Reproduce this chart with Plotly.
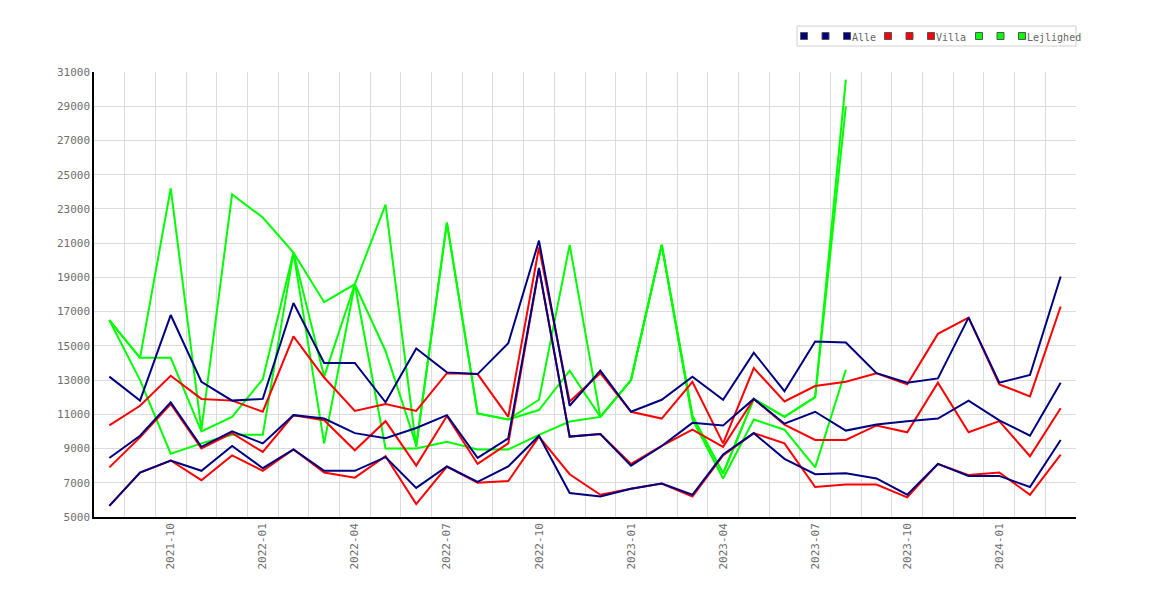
import plotly.graph_objects as go

months = ["2021-08", "2021-09", "2021-10", "2021-11", "2021-12", "2022-01", "2022-02", "2022-03",
          "2022-04", "2022-05", "2022-06", "2022-07", "2022-08", "2022-09", "2022-10", "2022-11",
          "2022-12", "2023-01", "2023-02", "2023-03", "2023-04", "2023-05", "2023-06", "2023-07",
          "2023-08", "2023-09", "2023-10", "2023-11", "2023-12", "2024-01", "2024-02", "2024-03"]

# Alle
alle_top = [13200, 11800, 16800, 12900, 11800, 11900, 17500, 14000, 14000, 11700, 14850, 13450,
            13350, 15150, 21150, 11500, 13550, 11150, 11850, 13200, 11850, 14600, 12350, 15250,
            15200, 13400, 12850, 13100, 16650, 12850, 13300, 19050]
alle_mid = [8450, 9750, 11700, 9100, 10000, 9300, 10950, 10750, 9900, 9600, 10200, 10950,
            8450, 9600, 19550, 9700, 9850, 8000, 9150, 10500, 10350, 11900, 10450, 11150,
            10050, 10400, 10600, 10750, 11800, 10650, 9750, 12850]
alle_bot = [5650, 7600, 8300, 7700, 9150, 7850, 8950, 7700, 7700, 8500, 6700, 7950,
            7050, 7950, 9750, 6400, 6200, 6650, 6950, 6300, 8650, 9900, 8400, 7500,
            7550, 7250, 6300, 8100, 7400, 7400, 6750, 9500]

# Villa
villa_top = [10350, 11500, 13250, 11900, 11800, 11150, 15550, 13150, 11200, 11600, 11200, 13400,
             13350, 10850, 20750, 11750, 13400, 11150, 10750, 12900, 9300, 13700, 11750, 12650,
             12900, 13400, 12750, 15700, 16650, 12750, 12050, 17300]
villa_mid = [7900, 9650, 11600, 9000, 9900, 8800, 10950, 10650, 8900, 10600, 8000, 10900,
             8100, 9300, 19500, 9700, 9850, 8100, 9150, 10100, 9100, 11900, 10400, 9500,
             9500, 10350, 9950, 12850, 9950, 10600, 8550, 11350]
villa_bot = [5650, 7600, 8300, 7150, 8600, 7700, 8950, 7600, 7300, 8550, 5750, 7950,
             7000, 7100, 9700, 7500, 6300, 6650, 6950, 6200, 8600, 9900, 9300, 6750,
             6900, 6900, 6150, 8100, 7450, 7600, 6300, 8650]

# Lejlighed (ingen data efter 2023-08)
lejl_top = [16500, 14300, 24200, 10100, 23850, 22500, 20450, 17550, 18600, 23250, 9100, 22200,
            11050, 10700, 11850, 20900, 10850, 13000, 20900, 10900, 7550, 11900, 10850, 12000,
            30550, None, None, None, None, None, None, None]
lejl_mid = [16500, 14300, 14300, 10000, 10850, 13050, 20450, 13200, 18600, 14700, 9200, 22200,
            11050, 10700, 11250, 13550, 10850, 13000, 20900, 10900, 7550, 11900, 10850, 12000,
            29000, None, None, None, None, None, None, None]
lejl_bot = [16500, 13000, 8700, 9300, 9800, 9800, 20450, 9300, 18600, 9000, 9000, 9400,
            8950, 8950, 9800, 10580, 10850, 13000, 20900, 10700, 7250, 10700, 10100, 7900,
            13600, None, None, None, None, None, None, None]

groups = [
    ("Lejlighed", "#00ff00", [lejl_top, lejl_mid, lejl_bot]),
    ("Villa", "#ff0000", [villa_top, villa_mid, villa_bot]),
    ("Alle", "#000080", [alle_top, alle_mid, alle_bot]),
]

x = list(range(len(months)))
tick_idx = [i for i, m in enumerate(months) if m[-2:] in ("01", "04", "07", "10")]

fig = go.Figure()
for name, color, series in groups:
    for s in series:
        fig.add_trace(go.Scatter(x=x, y=s, mode="lines", name=name,
                                 line=dict(color=color, width=2),
                                 connectgaps=False, showlegend=False))

# the page puts the figure 8px in from the top/left
W, H = 1170, 600
ml, mr, mt, mb = 86, 102, 64, 91
pw, ph = W - ml - mr, H - mt - mb
off = 8


def px_x(p):
    return (p - off - ml) / pw


def px_y(p):
    return (H - mb - (p - off)) / ph


# legend box drawn by hand (three squares per group, like the original)
shapes = [dict(type="rect", xref="paper", yref="paper",
               x0=px_x(797), x1=px_x(1076), y0=px_y(46), y1=px_y(26),
               line=dict(color="#d0d0d0", width=1), fillcolor="white")]
annotations = []
legend_start = {"Alle": 804, "Villa": 888, "Lejlighed": 979}
for name, color, series in groups:
    x0 = legend_start[name]
    for k in range(len(series)):
        cx = x0 + k * 21.5
        shapes.append(dict(type="rect", xref="paper", yref="paper",
                           x0=px_x(cx - 3.5), x1=px_x(cx + 3.5), y0=px_y(39.5), y1=px_y(32.5),
                           line=dict(color="#555555", width=1), fillcolor=color))
    annotations.append(dict(text=name, xref="paper", yref="paper",
                            x=px_x(x0 + 2 * 21.5 + 3), y=px_y(37), xanchor="left", yanchor="middle",
                            showarrow=False, font=dict(family="DejaVu Sans Mono", size=10, color="#666666")))

fig.update_layout(
    width=W, height=H,
    margin=dict(l=ml, r=mr, t=mt, b=mb),
    paper_bgcolor="white", plot_bgcolor="white",
    showlegend=False,
    shapes=shapes, annotations=annotations,
    font=dict(family="DejaVu Sans Mono", size=11, color="#707070"),
)
fig.update_xaxes(
    range=[-0.5, 31.5],
    tickmode="array", tickvals=tick_idx, ticktext=[months[i] for i in tick_idx],
    tickangle=-90, showgrid=False, zeroline=False,
    showline=True, linecolor="black", linewidth=1.5, ticks="",
    tickfont=dict(size=11, color="#707070"),
    minor=dict(tick0=0.5, dtick=1, showgrid=True, gridcolor="#dcdcdc", gridwidth=1, ticks=""),
)
fig.update_yaxes(
    range=[5000, 31000], tick0=5000, dtick=2000, tickformat="d",
    showgrid=True, gridcolor="#dcdcdc", gridwidth=1, zeroline=False,
    showline=True, linecolor="black", linewidth=1.5, ticks="",
    tickfont=dict(size=11, color="#707070"),
)

fig.write_html("out.html")
